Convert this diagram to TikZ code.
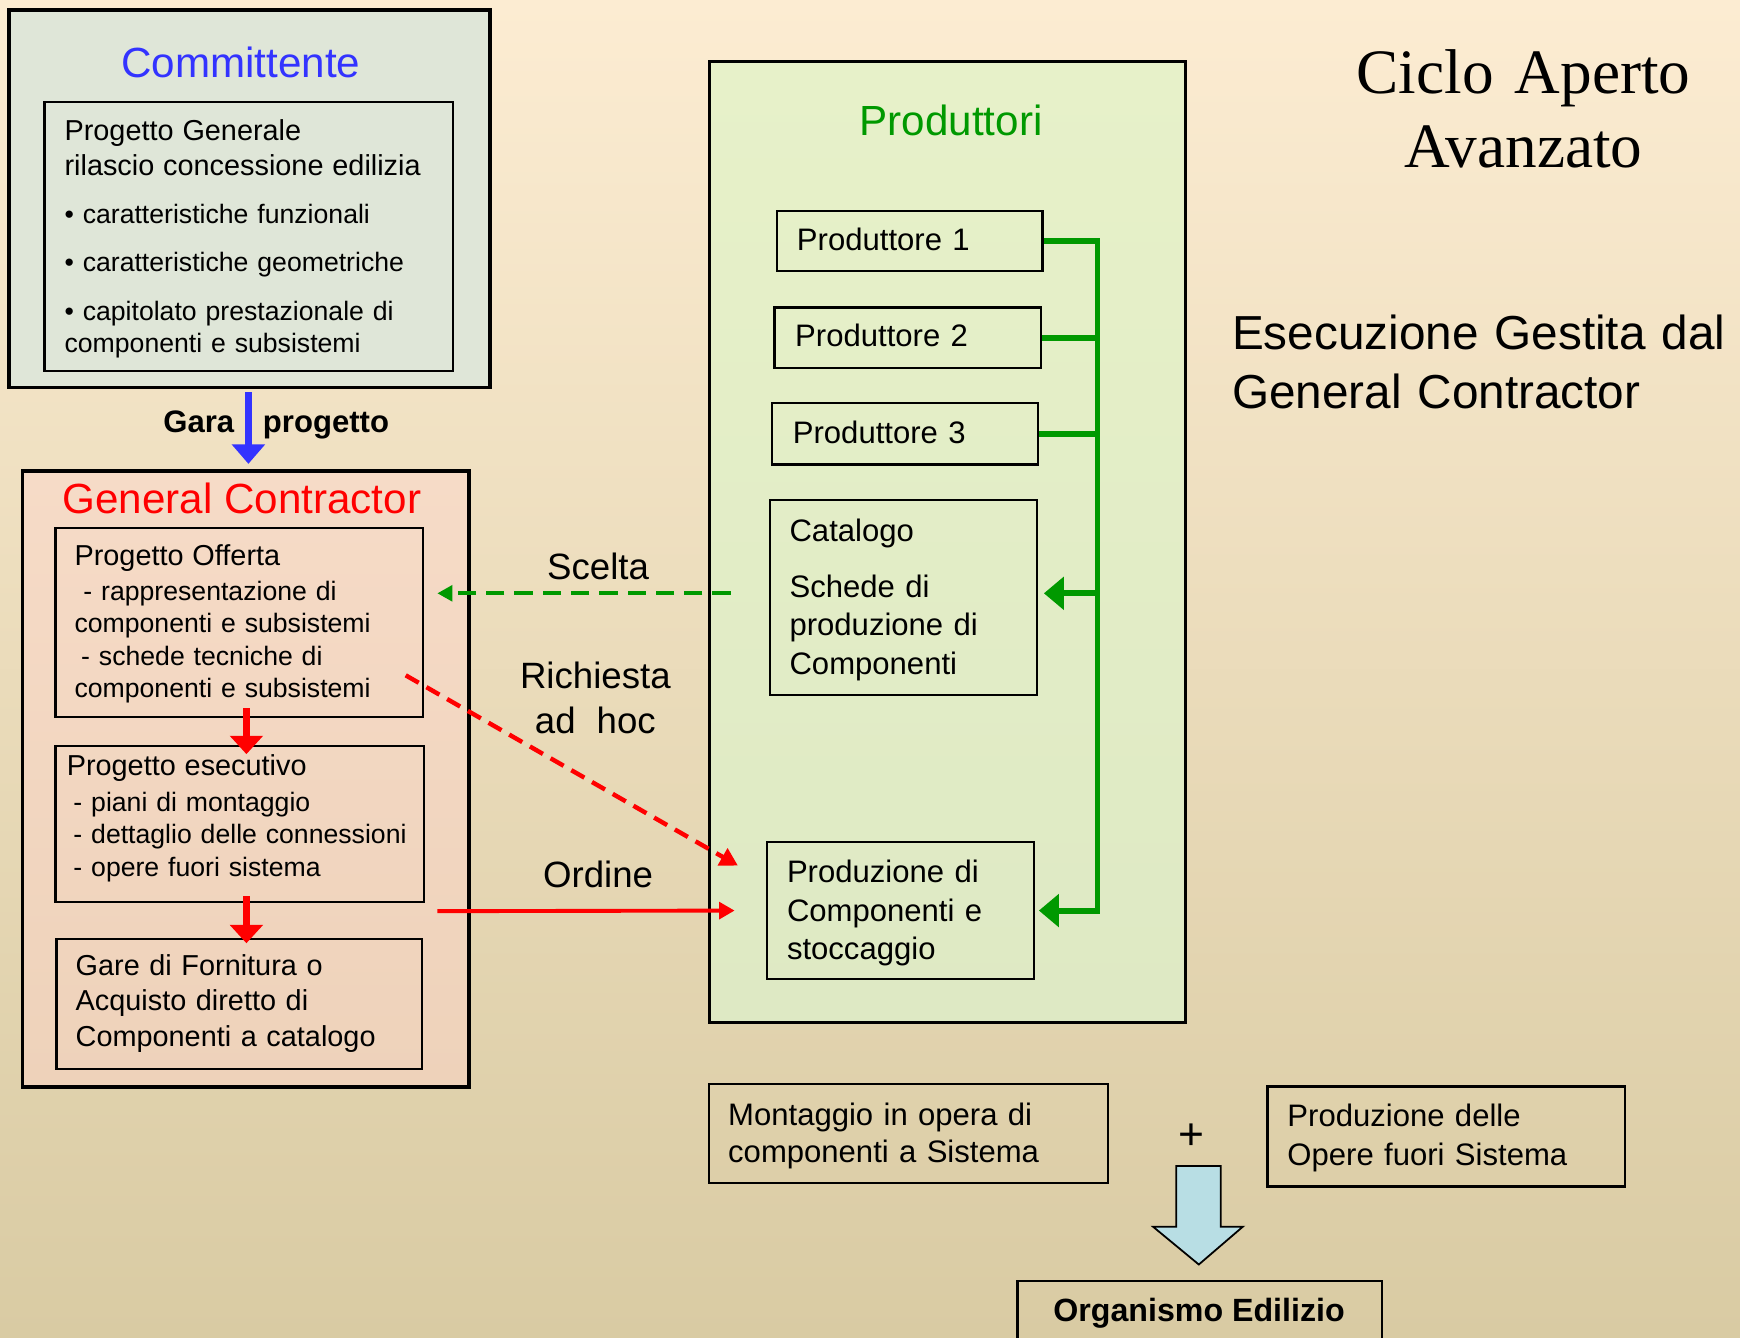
\documentclass[tikz,border=0pt]{standalone}
\usepackage{fontspec}
\setmainfont{Liberation Sans}
\newfontfamily\timesfont{Liberation Serif}
\usetikzlibrary{arrows.meta,calc}
\definecolor{bgtop}{RGB}{252,236,210}
\definecolor{bgmid}{RGB}{244,232,206}
\definecolor{bgbot}{RGB}{217,203,163}
\definecolor{cmfill}{RGB}{223,230,216}
\definecolor{gctop}{RGB}{246,219,199}
\definecolor{gcbot}{RGB}{238,210,186}
\definecolor{prtop}{RGB}{231,241,201}
\definecolor{prbot}{RGB}{222,233,196}
\definecolor{tblue}{RGB}{51,51,255}
\definecolor{tgreen}{RGB}{0,153,0}
\definecolor{arrfill}{RGB}{184,222,228}
\tikzset{
  outerbox/.style={draw=black, line width=3pt, anchor=north west, inner sep=0pt},
  innerbox/.style={draw=black, line width=2.1pt, anchor=north west, inner sep=0pt},
  txt/.style={anchor=base west, inner sep=0pt, align=left, text width=#1},
  lbl/.style={anchor=base, inner sep=0pt},
  titlefont/.style={lbl, font=\fontsize{38}{44}\selectfont},
  redthick/.style={draw=red, line width=6pt, -{Triangle[width=29pt,length=16.5pt]}},
  bluethick/.style={draw=tblue, line width=6pt, -{Triangle[width=29pt,length=17.5pt]}},
  gline/.style={draw=tgreen, line width=5.4pt},
  garrow/.style={-{Triangle[width=29pt,length=18pt]}},
  gdash/.style={draw=tgreen, line width=3.6pt, dash pattern=on 16.5pt off 9pt, -{Triangle[width=14pt,length=13.5pt]}},
  rdash/.style={draw=red, line width=4pt, dash pattern=on 13.5pt off 8pt, -{Triangle[width=17pt,length=16pt]}},
  rsolid/.style={draw=red, line width=3.5pt, -{Triangle[width=15pt,length=14pt]}},
}
\begin{document}
\begin{tikzpicture}[x=1pt,y=-1pt]
\useasboundingbox (0,0) rectangle (1568,1205);
\clip (0,0) rectangle (1568,1205);
\shade[top color=bgtop, middle color=bgmid, bottom color=bgbot] (0,0) rectangle (1568,1205);

% Committente
\node[outerbox, fill=cmfill, minimum width=433.5pt, minimum height=340pt] (cm) at (6.6,7.5) {};
\node[titlefont, text=tblue] (cmt) at (217,70) {Committente};
\node[innerbox, minimum width=368pt, minimum height=242.4pt] (cmi) at (39,91) {};
\node[txt=360pt, font=\fontsize{24}{29}\selectfont] (cmtx) at (58,126.2)
  {{\fontsize{26}{29}\selectfont Progetto Generale}\\[2.5pt]
   {\fontsize{26}{29}\selectfont rilascio concessione edilizia}\\[14.5pt]
   • caratteristiche funzionali\\[14.6pt]
   • caratteristiche geometriche\\[14.6pt]
   • capitolato prestazionale di\\
   componenti e subsistemi};

% Gara progetto
\node[anchor=base west, inner sep=0pt, font=\bfseries\fontsize{28}{32}\selectfont] (gara) at (147,390) {Gara\hspace*{26pt}progetto};

% General Contractor
\node[outerbox, top color=gctop, bottom color=gcbot, minimum width=402pt, minimum height=555pt] (gc) at (19,423) {};
\node[titlefont, text=red] (gct) at (218,463) {General Contractor};
\node[innerbox, minimum width=331pt, minimum height=170pt] (po) at (49,475) {};
\node[txt=320pt, font=\fontsize{24}{29.3}\selectfont] (potx) at (67,510)
  {{\fontsize{26}{29.3}\selectfont Progetto Offerta}\\[1.7pt]
   \hspace*{8pt}- rappresentazione di\\
   componenti e subsistemi\\
   \hspace*{6pt}- schede tecniche di\\
   componenti e subsistemi};
\node[innerbox, minimum width=332pt, minimum height=141pt] (pe) at (49,671) {};
\node[txt=325pt, font=\fontsize{24}{29.3}\selectfont] (petx) at (60,699)
  {{\fontsize{26}{29.3}\selectfont Progetto esecutivo}\\[2.7pt]
   \hspace*{6pt}- piani di montaggio\\
   \hspace*{6pt}- dettaglio delle connessioni\\
   \hspace*{6pt}- opere fuori sistema};
\node[innerbox, minimum width=329pt, minimum height=117pt] (gare) at (50,845) {};
\node[txt=320pt, font=\fontsize{26}{31.7}\selectfont] (garetx) at (68,879.3)
  {Gare di Fornitura o\\Acquisto diretto di\\Componenti a catalogo};

% Produttori
\node[outerbox, top color=prtop, bottom color=prbot, minimum width=429pt, minimum height=866pt] (pr) at (638,54) {};
\node[titlefont, text=tgreen] (prt) at (857,122.5) {Produttori};
\node[innerbox, minimum width=239.5pt, minimum height=54pt] (p1) at (699,189) {};
\node[txt=220pt, font=\fontsize{28}{33}\selectfont] (p1tx) at (718,225.3) {Produttore 1};
\node[innerbox, minimum width=240pt, minimum height=54.5pt] (p2) at (697,276) {};
\node[txt=220pt, font=\fontsize{28}{33}\selectfont] (p2tx) at (716.4,312.4) {Produttore 2};
\node[innerbox, minimum width=239.7pt, minimum height=55.5pt] (p3) at (694.8,362) {};
\node[txt=220pt, font=\fontsize{28}{33}\selectfont] (p3tx) at (714.3,399.4) {Produttore 3};
\node[innerbox, minimum width=240.6pt, minimum height=175.6pt] (cat) at (693,449.8) {};
\node[txt=220pt, font=\fontsize{28}{34.5}\selectfont] (cattx) at (711.3,487.6)
  {Catalogo\\[16.5pt]Schede di\\produzione di\\Componenti};
\node[innerbox, minimum width=240.6pt, minimum height=123pt] (pc) at (690,758) {};
\node[txt=220pt, font=\fontsize{28}{34.7}\selectfont] (pctx) at (709,795.5)
  {Produzione di\\Componenti e\\stoccaggio};

% green bus
\coordinate (bx) at (989,0);
\draw[gline, garrow] (p1.east) -| (pc.east -| bx) -- ($(pc.east)+(3.5,0)$);
\draw[gline] (p2.east) -- (p2.east -| bx);
\draw[gline] (p3.east) -- (p3.east -| bx);
\draw[gline, garrow] ($(cat.east -| bx)+(0,-4)$) -- ($(cat.east)+(5,-4)$);

% links between GC and Produttori
\draw[gdash] ($(cat.west)+(-34.5,-4)$) -- ($(cat.west -| po.east)+(12,-4)$);
\draw[rdash] ($(po.east)+(-16.5,47.5)$) -- ($(pc.west)+(-25,-40.5)$);
\draw[rsolid] ($(pe.south east)+(11,7)$) -- ($(pc.west)+(-28,0)$);
\node[lbl, font=\fontsize{33}{41}\selectfont] (scelta) at (539,522) {Scelta};
\node[anchor=base, inner sep=0pt, align=center, text width=200pt, font=\fontsize{33}{41}\selectfont] (rich) at (536.5,620) {Richiesta\\ad\hspace*{19pt}hoc};
\node[lbl, font=\fontsize{33}{41}\selectfont] (ordine) at (539,800) {Ordine};

% vertical arrows
\draw[bluethick] ($(cm.south)+(-1,3)$) -- ($(cm.south |- gc.north)+(-1,-5)$);
\draw[redthick] ($(po.south)+(6.5,-9)$) -- ($(pe.north)+(6,8.6)$);
\draw[redthick] ($(pe.south)+(6,-6.5)$) -- ($(gare.north)+(6.5,5)$);

% titles
\node[anchor=base, inner sep=0pt, align=center, text width=500pt, font=\timesfont\fontsize{57}{67}\selectfont] (title) at (1373,84) {Ciclo Aperto\\Avanzato};
\node[txt=458pt, font=\fontsize{43}{53}\selectfont] (esec) at (1110,315) {Esecuzione Gestita dal\\General Contractor};

% bottom
\node[innerbox, minimum width=359.5pt, minimum height=89pt] (mont) at (638,976) {};
\node[txt=340pt, font=\fontsize{28}{33.5}\selectfont] (monttx) at (656,1014) {Montaggio in opera di\\componenti a Sistema};
\node[lbl, font=\fontsize{40}{44}\selectfont] (plus) at (1074,1035.5) {+};
\node[innerbox, minimum width=322.5pt, minimum height=90pt] (pdf) at (1141,978) {};
\node[txt=300pt, font=\fontsize{28}{35}\selectfont] (pdftx) at (1160,1015.5) {Produzione delle\\Opere fuori Sistema};
\node[innerbox, minimum width=328.5pt, minimum height=75pt] (org) at (916,1153.5) {};
\node[lbl, font=\bfseries\fontsize{29}{34}\selectfont] (orgtx) at (1080.5,1191) {Organismo Edilizio};
\draw[line width=1.6pt, fill=arrfill, line join=miter]
  (1060,1050.7) -- (1100,1050.7) -- (1100,1105.4) -- (1120,1105.4)
  -- ($(org.north)+(-1,-14)$) -- (1039,1105.4) -- (1060,1105.4) -- cycle;
\end{tikzpicture}
\end{document}
